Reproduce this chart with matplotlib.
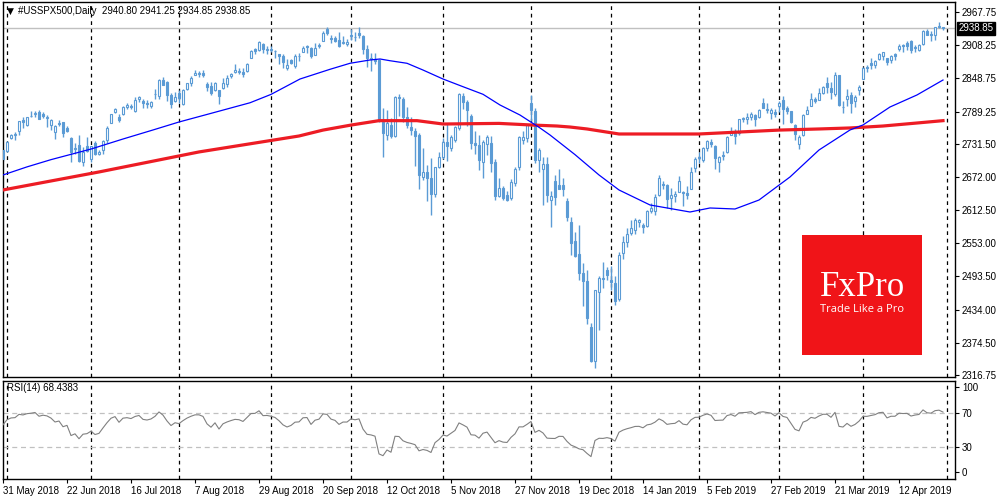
import numpy as np
import pandas as pd
import matplotlib
matplotlib.use("Agg")
import matplotlib.pyplot as plt
import matplotlib.transforms as mtransforms
from matplotlib.patches import Rectangle

plt.rcParams['font.family'] = ['Liberation Sans', 'DejaVu Sans']

# trading days of the CFD (it also trades on most US holidays)
dates = pd.bdate_range('2018-05-31', '2019-04-30')
dates = dates.drop(pd.to_datetime(['2018-12-25', '2019-01-01', '2019-04-19']))

# daily bars, one line per month
opens = [
    2720,
    2718, 2741, 2748, 2754, 2774, 2765, 2781, 2785, 2788, 2784, 2778, 2766, 2753, 2769, 2770, 2760, 2742, 2722, 2729, 2698, 2728,
    2705, 2733, 2714, 2720, 2738, 2768, 2789, 2779, 2784, 2798, 2799, 2790, 2811, 2809, 2805, 2799, 2821, 2817, 2845, 2843, 2819, 2809,
    2822, 2803, 2829, 2840, 2855, 2856, 2858, 2838, 2835, 2827, 2827, 2831, 2838, 2853, 2861, 2860, 2860, 2862, 2885, 2901, 2900, 2910, 2899,
    2902, 2898, 2892, 2889, 2868, 2881, 2871, 2888, 2896, 2906, 2903, 2891, 2906, 2916, 2937, 2922, 2922, 2918, 2912, 2910,
    2926, 2923, 2931, 2925, 2902, 2885, 2884, 2881, 2771, 2747, 2765, 2745, 2816, 2812, 2780, 2762, 2754, 2747, 2672, 2680, 2670, 2642, 2690,
    2708, 2735, 2723, 2738, 2759, 2817, 2807, 2781, 2732, 2729, 2699, 2731, 2732, 2699, 2638, 2652, 2640, 2635, 2662, 2689, 2738, 2741,
    2804, 2791, 2702, 2687, 2696, 2630, 2664, 2658, 2658, 2629, 2592, 2557, 2534, 2500, 2486, 2403, 2341, 2466, 2490, 2505,
    2488, 2481, 2453, 2535, 2555, 2572, 2576, 2592, 2585, 2584, 2611, 2610, 2640, 2660, 2658, 2634, 2638, 2645, 2645, 2644, 2651, 2688,
    2707, 2703, 2724, 2735, 2728, 2698, 2712, 2716, 2747, 2752, 2750, 2775, 2775, 2780, 2783, 2780, 2805, 2792, 2787, 2789,
    2799, 2810, 2795, 2790, 2766, 2731, 2747, 2785, 2799, 2811, 2810, 2822, 2841, 2831, 2820, 2854, 2797, 2812, 2819, 2809, 2828,
    2848, 2869, 2876, 2873, 2884, 2888, 2886, 2881, 2892, 2901, 2908, 2912, 2916, 2904, 2899, 2910, 2934, 2928, 2926, 2940, 2940.80,
]
highs = [
    2722,
    2736, 2749, 2752, 2772, 2779, 2779, 2790, 2790, 2792, 2789, 2783, 2775, 2765, 2774, 2771, 2764, 2743, 2732, 2747, 2725, 2744,
    2727, 2737, 2720, 2738, 2764, 2785, 2795, 2785, 2800, 2805, 2803, 2815, 2817, 2811, 2810, 2809, 2830, 2848, 2851, 2844, 2822, 2825,
    2827, 2830, 2841, 2853, 2864, 2862, 2863, 2842, 2843, 2843, 2827, 2850, 2855, 2859, 2874, 2867, 2868, 2876, 2899, 2904, 2916, 2912, 2907,
    2906, 2900, 2893, 2892, 2883, 2884, 2893, 2895, 2906, 2908, 2905, 2912, 2912, 2934, 2941, 2927, 2925, 2932, 2925, 2920,
    2937, 2932, 2940, 2926, 2909, 2894, 2894, 2884, 2795, 2792, 2778, 2818, 2821, 2816, 2797, 2779, 2760, 2750, 2723, 2693, 2706, 2690, 2716,
    2741, 2767, 2748, 2764, 2822, 2822, 2810, 2785, 2755, 2747, 2738, 2748, 2745, 2705, 2670, 2655, 2647, 2668, 2690, 2746, 2754, 2766,
    2819, 2795, 2724, 2708, 2708, 2646, 2675, 2686, 2670, 2635, 2601, 2573, 2585, 2517, 2505, 2410, 2469, 2495, 2520, 2510,
    2512, 2494, 2538, 2566, 2580, 2595, 2598, 2597, 2589, 2613, 2625, 2641, 2675, 2665, 2660, 2653, 2647, 2673, 2646, 2656, 2690, 2708,
    2717, 2725, 2738, 2740, 2730, 2709, 2718, 2746, 2761, 2758, 2776, 2780, 2787, 2789, 2784, 2794, 2814, 2804, 2796, 2793,
    2809, 2817, 2799, 2791, 2767, 2747, 2784, 2799, 2822, 2816, 2831, 2835, 2852, 2843, 2860, 2855, 2809, 2829, 2825, 2819, 2836,
    2870, 2872, 2885, 2882, 2894, 2896, 2886, 2890, 2894, 2911, 2910, 2916, 2918, 2909, 2910, 2936, 2937, 2934, 2940, 2949, 2941.25,
]
lows = [
    2700,
    2716, 2740, 2739, 2747, 2760, 2763, 2780, 2780, 2775, 2777, 2761, 2757, 2740, 2763, 2744, 2752, 2699, 2714, 2699, 2692, 2716,
    2699, 2712, 2711, 2714, 2732, 2768, 2786, 2770, 2783, 2794, 2793, 2789, 2806, 2796, 2795, 2796, 2812, 2812, 2836, 2809, 2795, 2806,
    2804, 2801, 2827, 2835, 2854, 2852, 2852, 2826, 2819, 2826, 2803, 2830, 2834, 2850, 2858, 2856, 2852, 2860, 2885, 2893, 2898, 2895, 2892,
    2896, 2885, 2874, 2868, 2864, 2874, 2867, 2880, 2896, 2895, 2886, 2891, 2903, 2915, 2927, 2913, 2914, 2905, 2910, 2907,
    2917, 2915, 2921, 2893, 2869, 2862, 2874, 2770, 2708, 2738, 2742, 2744, 2782, 2770, 2760, 2748, 2692, 2651, 2667, 2628, 2604, 2636, 2688,
    2705, 2700, 2719, 2735, 2756, 2794, 2764, 2722, 2714, 2685, 2670, 2712, 2681, 2631, 2636, 2630, 2628, 2630, 2655, 2684, 2731, 2735,
    2773, 2697, 2680, 2621, 2627, 2583, 2622, 2650, 2637, 2593, 2532, 2529, 2488, 2440, 2408, 2340, 2329, 2397, 2472, 2487,
    2470, 2443, 2449, 2525, 2547, 2568, 2570, 2582, 2571, 2582, 2607, 2603, 2638, 2650, 2617, 2612, 2627, 2645, 2620, 2633, 2650, 2680,
    2697, 2698, 2719, 2725, 2687, 2681, 2702, 2715, 2747, 2731, 2748, 2770, 2767, 2774, 2763, 2778, 2795, 2787, 2775, 2780,
    2789, 2767, 2785, 2769, 2739, 2722, 2746, 2784, 2799, 2804, 2810, 2821, 2823, 2812, 2818, 2800, 2786, 2799, 2787, 2798, 2819,
    2848, 2860, 2865, 2867, 2882, 2881, 2873, 2876, 2881, 2898, 2896, 2900, 2895, 2896, 2897, 2908, 2926, 2916, 2917, 2939, 2934.85,
]
closes = [
    2705,
    2735, 2747, 2749, 2772, 2770, 2779, 2782, 2787, 2776, 2782, 2780, 2774, 2763, 2767, 2750, 2755, 2717, 2723, 2700, 2716, 2718,
    2727, 2713, 2717, 2737, 2760, 2784, 2794, 2774, 2798, 2801, 2798, 2810, 2816, 2804, 2802, 2807, 2820, 2846, 2837, 2819, 2803, 2816,
    2813, 2827, 2840, 2850, 2858, 2858, 2854, 2833, 2822, 2840, 2818, 2841, 2850, 2857, 2863, 2862, 2857, 2875, 2897, 2898, 2914, 2901, 2902,
    2900, 2897, 2889, 2878, 2872, 2877, 2888, 2889, 2904, 2905, 2889, 2904, 2908, 2931, 2930, 2919, 2916, 2906, 2914, 2914,
    2925, 2923, 2926, 2902, 2886, 2884, 2880, 2772, 2750, 2769, 2745, 2816, 2814, 2780, 2765, 2756, 2745, 2675, 2681, 2670, 2642, 2690, 2708,
    2735, 2727, 2744, 2762, 2820, 2807, 2792, 2732, 2729, 2702, 2735, 2743, 2697, 2638, 2652, 2635, 2631, 2663, 2687, 2743, 2743, 2765,
    2792, 2703, 2721, 2696, 2640, 2637, 2636, 2651, 2650, 2600, 2554, 2531, 2500, 2486, 2419, 2341, 2469, 2491, 2489, 2496,
    2484, 2450, 2532, 2555, 2570, 2581, 2594, 2595, 2583, 2610, 2617, 2636, 2670, 2657, 2633, 2639, 2642, 2665, 2644, 2640, 2681, 2704,
    2706, 2724, 2737, 2731, 2706, 2708, 2709, 2744, 2753, 2746, 2775, 2777, 2779, 2785, 2775, 2792, 2796, 2794, 2792, 2784,
    2804, 2793, 2790, 2771, 2749, 2743, 2783, 2792, 2811, 2808, 2822, 2833, 2833, 2824, 2855, 2801, 2798, 2818, 2805, 2815, 2834,
    2867, 2867, 2873, 2879, 2893, 2896, 2878, 2888, 2888, 2907, 2906, 2907, 2900, 2905, 2908, 2934, 2927, 2926, 2940, 2943, 2938.85,
]
# closes of May 2018 before the window, needed to start the RSI
pre_closes = [2654.8, 2635.7, 2629.7, 2663.4, 2672.6, 2671.9, 2697.8, 2723.1, 2727.7, 2730.1, 2711.5,
              2722.5, 2720.1, 2713.0, 2733.0, 2724.4, 2733.3, 2727.8, 2721.3, 2689.9, 2724.0]

# moving averages (bar index, value)
ma50_bars = [0, 6, 12, 22, 30, 37.5, 44, 52, 61.75, 67, 74.25, 81.75, 86.75, 91.75, 94.25, 96.75, 101, 105,
             110, 115, 120, 124.25, 129.25, 134.25, 136.75, 143, 149, 154, 161.75, 171.75, 176.75, 183,
             189, 196.75, 204, 211.75, 215, 221.75, 228.5, 235]
ma50_vals = [2675.5, 2690, 2703, 2722, 2740, 2756.2, 2770.5, 2786, 2805, 2820, 2847.6, 2865, 2875.8, 2881.7,
             2883.5, 2880.4, 2875.8, 2863.7, 2847.6, 2833.8, 2820.2, 2801, 2783, 2759.8, 2747.2, 2712,
             2675.5, 2648.6, 2621.7, 2609.1, 2616.3, 2614.5, 2630.6, 2671.9, 2720.3, 2756.2, 2765.2,
             2797.4, 2819, 2845.8]
ma200_bars = [0, 24, 49, 74, 80, 87, 94, 103.5, 110, 124, 132.5, 138.5, 141.75, 146, 154, 174, 194,
              204, 211.75, 220, 228.5, 235]
ma200_vals = [2648.6, 2680.9, 2716.8, 2745.4, 2756, 2765, 2772.9, 2772.9, 2766.9, 2768, 2765, 2763.3,
              2761.5, 2758, 2749, 2749, 2756, 2758, 2759.8, 2763.3, 2768.7, 2772.9]

price_ticks = [2316.75, 2374.50, 2434.00, 2493.50, 2553.00, 2612.50, 2672.00, 2731.50,
               2789.25, 2848.75, 2908.25, 2967.75]
rsi_ticks = [0, 30, 70, 100]

assert len(opens) == len(highs) == len(lows) == len(closes) == len(dates)

# RSI(14), Wilder smoothing
allc = np.array(pre_closes + closes, dtype=float)
d = np.diff(allc)
g = np.clip(d, 0, None)
l = np.clip(-d, 0, None)
ag, al = g[:14].mean(), l[:14].mean()
rsi_all = [100 - 100 / (1 + ag / al)]
for i in range(14, len(d)):
    ag = (ag * 13 + g[i]) / 14
    al = (al * 13 + l[i]) / 14
    rsi_all.append(100 - 100 / (1 + ag / al))
rsi = np.array(rsi_all[-len(closes):])

blue = '#5b9bd5'
x = np.arange(len(dates))
o = np.array(opens, float)
h = np.array(highs, float)
lo = np.array(lows, float)
c = np.array(closes, float)
up = c >= o

fig = plt.figure(figsize=(10, 5), dpi=100)
ax = fig.add_axes([0.003, 0.246, 0.952, 0.75])
ax2 = fig.add_axes([0.003, 0.042, 0.952, 0.196])

# month separators
month_start = [i for i in range(1, len(dates)) if dates[i].month != dates[i - 1].month] + [len(dates)]
for a in (ax, ax2):
    for m in month_start:
        a.axvline(m, color='black', lw=0.9, ls=(0, (3, 3)), zorder=1)
    a.set_xlim(0, 238)
    for s in a.spines.values():
        s.set_color('black')
        s.set_linewidth(1)

ax.axhline(2938.85, color='#c0c0c0', lw=1, zorder=1)

# candles
ax.vlines(x, lo, h, color=blue, lw=1, zorder=2)
ax.bar(x[up], c[up] - o[up], bottom=o[up], width=0.5, facecolor='white',
       edgecolor=blue, linewidth=0.8, zorder=3)
ax.bar(x[~up], o[~up] - c[~up], bottom=c[~up], width=0.5, facecolor=blue,
       edgecolor=blue, linewidth=0.8, zorder=3)

ax.plot(ma200_bars, ma200_vals, color='#ed1c24', lw=2.3, zorder=4)
ax.plot(ma50_bars, ma50_vals, color='#0000ff', lw=0.9, zorder=4)

ax.set_ylim(2313.2, 2985.7)
ax.yaxis.tick_right()
ax.set_yticks(price_ticks)
ax.set_yticklabels([f'{v:.2f}' for v in price_ticks])
ax.tick_params(axis='y', length=3, width=0.8, pad=2, labelsize=7, colors='black')
ax.set_xticks([])

tr = mtransforms.blended_transform_factory(ax.transAxes, ax.transData)
ax.text(1.004, 2938.85, '2938.85', transform=tr, fontsize=7, color='white', va='center', ha='left',
        bbox=dict(boxstyle='square,pad=0.15', fc='black', ec='black'), zorder=6, clip_on=False)

fig.text(0.0065, 1 - 11 / 500, '\u25bc', fontsize=6.5, va='center', ha='left', family='DejaVu Sans')
fig.text(0.018, 1 - 11 / 500, '#USSPX500,Daily  2940.80 2941.25 2934.85 2938.85',
         fontsize=7, va='center', ha='left')

# RSI panel
ax2.plot(x, rsi, color='#808080', lw=0.8, zorder=3)
for lvl in (30, 70):
    ax2.axhline(lvl, color='#c0c0c0', lw=0.9, ls=(0, (4, 3)), zorder=2)
ax2.set_ylim(-8, 107)
ax2.yaxis.tick_right()
ax2.set_yticks(rsi_ticks)
ax2.set_yticklabels([str(v) for v in rsi_ticks])
ax2.tick_params(axis='y', length=3, width=0.8, pad=2, labelsize=7)
ax2.text(0.004, 0.975, 'RSI(14) 68.4383', transform=ax2.transAxes, fontsize=7, va='top', ha='left')

lab_pos = list(range(0, len(dates), 16))
ax2.set_xticks(lab_pos)
ax2.set_xticklabels([f'{dates[i].day} {dates[i]:%b %Y}' for i in lab_pos], ha='left')
ax2.tick_params(axis='x', length=3, width=0.8, pad=2, labelsize=7)

# broker logo
fig.add_artist(Rectangle((0.802, 1 - 355 / 500), 0.120, 120 / 500, transform=fig.transFigure,
                         facecolor='#f01418', edgecolor='none', zorder=10))
fig.text(0.8625, 1 - 288 / 500, 'FxPro', fontsize=25, color='white', ha='center', va='center',
         family='Liberation Serif', zorder=11)
fig.text(0.862, 1 - 310 / 500, 'Trade Like a Pro', fontsize=8, color='white', ha='center',
         va='center', family='Open Sans', zorder=11)

fig.savefig('out.png', dpi=100, facecolor='white')
